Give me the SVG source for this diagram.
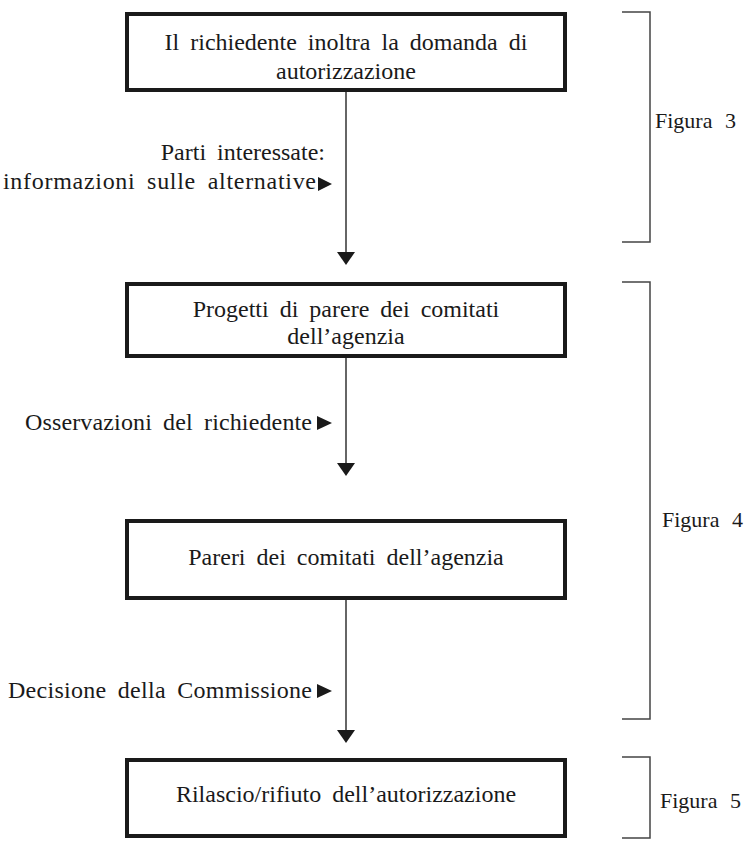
<svg xmlns="http://www.w3.org/2000/svg" width="748" height="841" viewBox="0 0 748 841">
  <style>
    .box { fill: #ffffff; stroke: #1a1a1a; stroke-width: 4; }
    .t { font-family: 'Liberation Serif', 'Times New Roman', serif; font-size: 24px; fill: #1a1a1a; word-spacing: 5px; }
    .fig { font-size: 22px; word-spacing: 7px; }
    .c { text-anchor: middle; }
    .e { text-anchor: end; }
    .link { stroke: #333333; stroke-width: 1.5; fill: none; }
    .brace { stroke: #444444; stroke-width: 1.5; fill: none; }
    .tri { fill: #1a1a1a; }
  </style>
  <defs>
    <marker id="down" viewBox="0 0 18 13" markerWidth="18" markerHeight="13" refX="9" refY="0" orient="0" markerUnits="userSpaceOnUse">
      <path d="M0,0 L18,0 L9,13 Z" class="tri"/>
    </marker>
  </defs>
  <rect width="748" height="841" fill="#ffffff"/>

  <!-- connectors -->
  <g id="connectors">
    <line class="link" x1="346" y1="92" x2="346" y2="252" marker-end="url(#down)"/>
    <line class="link" x1="346" y1="358" x2="346" y2="463" marker-end="url(#down)"/>
    <line class="link" x1="346" y1="600" x2="346" y2="730" marker-end="url(#down)"/>
  </g>

  <!-- process boxes -->
  <g id="n1">
    <rect class="box" x="127" y="14" width="438" height="76"/>
    <text class="t c" x="346" y="50">Il richiedente inoltra la domanda di</text>
    <text class="t c" x="346" y="79">autorizzazione</text>
  </g>
  <g id="n2">
    <rect class="box" x="127" y="284" width="438" height="72"/>
    <text class="t c" x="346" y="317">Progetti di parere dei comitati</text>
    <text class="t c" x="346" y="344">dell’agenzia</text>
  </g>
  <g id="n3">
    <rect class="box" x="127" y="521" width="438" height="77"/>
    <text class="t c" x="346" y="565">Pareri dei comitati dell’agenzia</text>
  </g>
  <g id="n4">
    <rect class="box" x="127" y="760" width="438" height="76"/>
    <text class="t c" x="346" y="802">Rilascio/rifiuto dell’autorizzazione</text>
  </g>

  <!-- side inputs -->
  <g id="l1">
    <text class="t e" x="325" y="160">Parti interessate:</text>
    <text class="t" x="3" y="189" textLength="313" lengthAdjust="spacing">informazioni sulle alternative</text>
    <path class="tri" d="M318,177 L332,184 L318,191 Z"/>
  </g>
  <g id="l2">
    <text class="t" x="25" y="430" textLength="287" lengthAdjust="spacing">Osservazioni del richiedente</text>
    <path class="tri" d="M317,416 L332,423 L317,430 Z"/>
  </g>
  <g id="l3">
    <text class="t" x="8" y="698" textLength="304" lengthAdjust="spacing">Decisione della Commissione</text>
    <path class="tri" d="M317,684 L332,691 L317,698 Z"/>
  </g>

  <!-- phase brackets -->
  <g id="f3">
    <path class="brace" d="M622,12 H650 V242 H622"/>
    <text class="t fig" x="655" y="128">Figura 3</text>
  </g>
  <g id="f4">
    <path class="brace" d="M622,282 H650 V719 H622"/>
    <text class="t fig" x="662" y="527">Figura 4</text>
  </g>
  <g id="f5">
    <path class="brace" d="M622,757 H650 V838 H622"/>
    <text class="t fig" x="660" y="808">Figura 5</text>
  </g>
</svg>
